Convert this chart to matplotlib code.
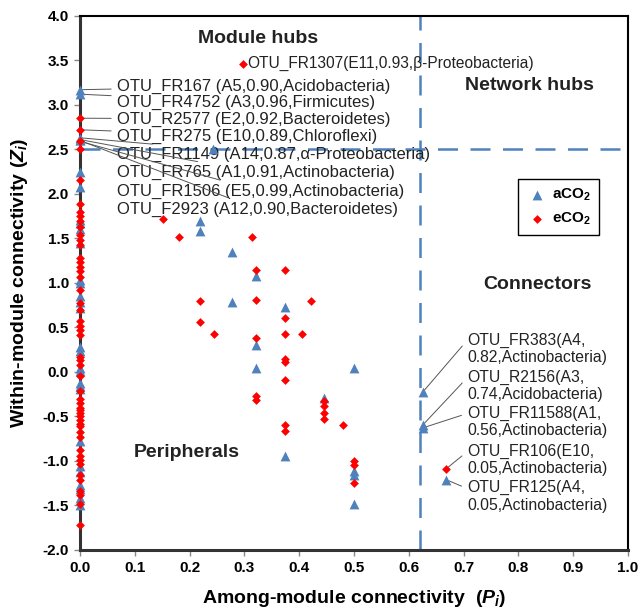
import matplotlib
matplotlib.use('Agg')
import matplotlib.pyplot as plt

plt.rcParams['font.family'] = ['Liberation Sans', 'DejaVu Sans']
plt.rcParams['mathtext.fontset'] = 'custom'
plt.rcParams['mathtext.it'] = 'Liberation Sans:italic:bold'
plt.rcParams['mathtext.rm'] = 'Liberation Sans:bold'

# aCO2 nodes (blue triangles): Pi, Zi
aco2_x = [0]*30 + [0.243, 0.219, 0.219, 0.278, 0.321, 0.278, 0.374, 0.321, 0.321, 0.50,
                   0.445, 0.375, 0.50, 0.50, 0.50, 0.625, 0.625, 0.625, 0.668]
aco2_y = [3.17, 3.12, 2.63, 2.61, 2.60, 2.25, 2.08, 1.71, 1.67, 1.60, 1.45, 1.03, 1.00, 0.85,
          0.79, 0.72, 0.28, 0.24, 0.04, 0.01, -0.13, -0.16, -0.19, -0.78, -1.06, -1.12,
          -1.27, -1.31, -1.42, -1.50,
          2.50, 1.70, 1.58, 1.35, 1.08, 0.78, 0.73, 0.30, 0.04, 0.04,
          -0.29, -0.94, -1.11, -1.16, -1.48, -0.23, -0.60, -0.63, -1.21]

# eCO2 nodes (red diamonds)
eco2_x = [0]*51 + [0.297, 0.152, 0.181, 0.314, 0.321, 0.374, 0.219, 0.321, 0.421, 0.374,
                   0.219, 0.245, 0.375, 0.406, 0.321, 0.375, 0.375, 0.375, 0.321, 0.321,
                   0.445, 0.445, 0.445, 0.445, 0.48, 0.375, 0.375, 0.50, 0.50, 0.50, 0.668]
eco2_y = [2.85, 2.72, 2.59, 2.50, 2.16, 1.89, 1.80, 1.75, 1.70, 1.63, 1.54, 1.48, 1.42, 1.28,
          1.24, 1.18, 1.13, 1.07, 0.92, 0.77, 0.70, 0.57, 0.52, 0.47, 0.42, 0.17, 0.13, 0.08,
          -0.05, -0.22, -0.30, -0.35, -0.41, -0.43, -0.46, -0.50, -0.54, -0.58, -0.61, -0.67,
          -0.73, -0.88, -0.95, -0.99, -1.03, -1.16, -1.21, -1.34, -1.38, -1.48, -1.72,
          3.46, 1.72, 1.52, 1.52, 1.15, 1.14, 0.80, 0.81, 0.80, 0.60,
          0.56, 0.43, 0.43, 0.43, 0.38, 0.14, 0.11, -0.09, -0.27, -0.32,
          -0.33, -0.38, -0.46, -0.53, -0.60, -0.60, -0.66, -1.00, -1.05, -1.25, -1.09]

# labelled hubs on the y axis
hub_names = ['OTU_FR167 (A5,0.90,Acidobacteria)', 'OTU_FR4752 (A3,0.96,Firmicutes)',
             'OTU_R2577 (E2,0.92,Bacteroidetes)', 'OTU_FR275 (E10,0.89,Chloroflexi)',
             'OTU_FR1149 (A14,0.87,\u03b1-Proteobacteria)', 'OTU_FR765 (A1,0.91,Actinobacteria)',
             'OTU_FR1506 (E5,0.99,Actinobacteria)', 'OTU_F2923 (A12,0.90,Bacteroidetes)']
hub_y = [3.17, 3.12, 2.85, 2.72, 2.63, 2.61, 2.59, 2.60]
hub_text_y = [3.21, 3.03, 2.84, 2.65, 2.44, 2.24, 2.03, 1.83]

# labelled connectors
con_names = ['OTU_FR383(A4,\n0.82,Actinobacteria)', 'OTU_R2156(A3,\n0.74,Acidobacteria)',
             'OTU_FR11588(A1,\n0.56,Actinobacteria)', 'OTU_FR106(E10,\n0.05,Actinobacteria)',
             'OTU_FR125(A4,\n0.05,Actinobacteria)']
con_x = [0.625, 0.625, 0.625, 0.668, 0.668]
con_y = [-0.23, -0.60, -0.63, -1.09, -1.21]
con_text_y = [0.26, -0.16, -0.56, -0.99, -1.40]

blue = '#4F81BD'
red = '#FF0000'

fig = plt.figure(figsize=(6.42, 6.09), dpi=100)
ax = fig.add_axes([0.1246, 0.097, 0.8536, 0.877])

ax.axhline(2.5, color=blue, lw=1.8, ls=(0, (8, 5)), zorder=1)
ax.axvline(0.62, color=blue, lw=1.8, ls=(0, (8, 5)), zorder=1)

for n, yy, ty in zip(hub_names, hub_y, hub_text_y):
    ax.annotate(n, xy=(0, yy), xytext=(0.067, ty), fontsize=12, color='#222222',
                va='center', ha='left',
                arrowprops=dict(arrowstyle='-', color='#555555', lw=0.7,
                                shrinkA=2, shrinkB=0))
for n, xx, yy, ty in zip(con_names, con_x, con_y, con_text_y):
    ax.annotate(n, xy=(xx, yy), xytext=(0.706, ty), fontsize=11.3, color='#222222',
                va='center', ha='left', linespacing=1.2,
                arrowprops=dict(arrowstyle='-', color='#555555', lw=0.7,
                                shrinkA=2, shrinkB=2, relpos=(0, 0.75)))

ax.scatter(aco2_x, aco2_y, marker='^', s=50, color=blue, linewidths=0, label='aCO$_2$',
           zorder=3, clip_on=False)
ax.scatter(eco2_x, eco2_y, marker='D', s=20, color=red, linewidths=0, label='eCO$_2$',
           zorder=4, clip_on=False)

ax.text(0.306, 3.46, 'OTU_FR1307(E11,0.93,\u03b2-Proteobacteria)', fontsize=11.2,
        color='#222222', va='center', ha='left')

ax.text(0.325, 3.74, 'Module hubs', fontsize=14, fontweight='bold', color='#222222', ha='center', va='center')
ax.text(0.82, 3.22, 'Network hubs', fontsize=14, fontweight='bold', color='#222222', ha='center', va='center')
ax.text(0.834, 0.98, 'Connectors', fontsize=14, fontweight='bold', color='#222222', ha='center', va='center')
ax.text(0.195, -0.91, 'Peripherals', fontsize=14, fontweight='bold', color='#222222', ha='center', va='center')

ax.set_xlim(0, 1.0)
ax.set_ylim(-2.0, 4.0)
ax.set_xticks([i / 10 for i in range(11)])
ax.set_yticks([-2 + 0.5 * i for i in range(13)])
ax.set_xticklabels(['%.1f' % (i / 10) for i in range(11)], fontweight='bold', fontsize=11)
ax.set_yticklabels(['%.1f' % (-2 + 0.5 * i) for i in range(13)], fontweight='bold', fontsize=11)
ax.tick_params(direction='out', length=4, width=1, color='#888888', pad=4)

ax.set_xlabel('Among-module connectivity  ($P_i$)', fontsize=14, fontweight='bold', labelpad=9)
ax.set_ylabel('Within-module connectivity ($Z_i$)', fontsize=14, fontweight='bold', labelpad=9)

for s in ['top', 'right']:
    ax.spines[s].set_linewidth(1.5)
    ax.spines[s].set_color('black')
for s in ['left', 'bottom']:
    ax.spines[s].set_linewidth(2.2)
    ax.spines[s].set_color('#333333')

leg = ax.legend(loc='lower left', bbox_to_anchor=(0.80, 0.59), fancybox=False,
                edgecolor='black', framealpha=1, prop={'weight': 'bold', 'size': 11},
                handletextpad=0.3, borderpad=0.5, labelspacing=0.5, handlelength=1.4,
                borderaxespad=0)
leg.get_frame().set_linewidth(1.0)

plt.savefig('out.png', dpi=100)
